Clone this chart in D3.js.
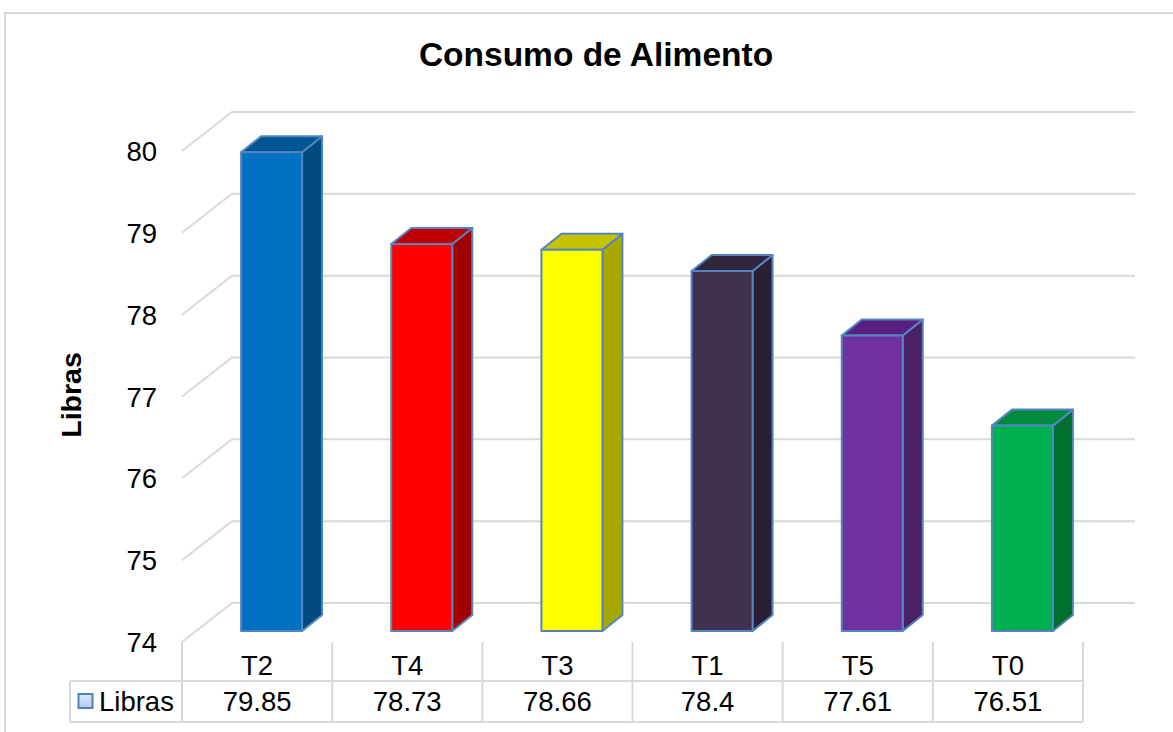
<!DOCTYPE html>
<html><head><meta charset="utf-8"><style>html,body{margin:0;background:#fff}svg{display:block}text{font-family:"Liberation Sans",Arial,sans-serif;fill:#000}</style>
<script src="https://cdn.jsdelivr.net/npm/d3@7"></script></head><body><svg id="c" width="1173" height="732"></svg>
<script>
const categories=["T2","T4","T3","T1","T5","T0"];
const values=[79.85,78.73,78.66,78.4,77.61,76.51];
const valueLabels=["79.85","78.73","78.66","78.4","77.61","76.51"];
const frontColors=["#0070c0","#ff0000","#ffff00","#403151","#7030a0","#00b050"];
const topColors=["#005693","#c00000","#c4c400","#30253d","#561f80","#008a3e"];
const sideColors=["#004a80","#a00000","#a8a800","#2a2036","#4b2067","#00702f"];
const ticks=[74,75,76,77,78,79,80];
const svg=d3.select("#c");
const grid="#d9d9d9";
const y=d3.scaleLinear().domain([74,80]).range([642,151]);
const x=d3.scaleBand().domain(categories).range([182,1083]);
const bw=61,dx=20,dy=16,barLift=11,barShift=14.5,backDx=50,backDy=39;
const line=(a,b,c,d,col=grid,w=2)=>svg.append("line").attr("x1",a).attr("y1",b).attr("x2",c).attr("y2",d).attr("stroke",col).attr("stroke-width",w);
// outer frame
svg.append("path").attr("d","M5,732V13H1173").attr("fill","none").attr("stroke",grid).attr("stroke-width",2);
svg.append("text").attr("x",596).attr("y",66).attr("text-anchor","middle").attr("font-size",33.5).attr("font-weight","bold").text("Consumo de Alimento");
svg.append("text").attr("transform","translate(81,395) rotate(-90)").attr("text-anchor","middle").attr("font-size",28.5).attr("font-weight","bold").text("Libras");
// gridlines
ticks.forEach(t=>{
  const v=y(t);
  svg.append("path").attr("d",`M${182},${v}L${182+backDx},${v-backDy}H1135`).attr("fill","none").attr("stroke",grid).attr("stroke-width",2);
  svg.append("text").attr("x",157).attr("y",v+10).attr("text-anchor","end").attr("font-size",27.5).text(t);
});
// bars
categories.forEach((c,i)=>{
  const l=x(c)+x.bandwidth()/2-bw/2+barShift, r=l+bw, top=y(values[i])-barLift, bot=y(74)-barLift;
  const g=svg.append("g").attr("stroke","#5585c0").attr("stroke-width",2).attr("stroke-linejoin","round");
  g.append("path").attr("d",`M${r},${top}L${r+dx},${top-dy}V${bot-dy}L${r},${bot}Z`).attr("fill",sideColors[i]);
  g.append("path").attr("d",`M${l},${top}L${l+dx},${top-dy}H${r+dx}L${r},${top}Z`).attr("fill",topColors[i]);
  g.append("rect").attr("x",l).attr("y",top).attr("width",bw).attr("height",bot-top).attr("fill",frontColors[i]);
});
// data table
const rowTop=681,rowBot=722,tblTop=642;
line(70,rowTop,1083,rowTop);line(70,rowBot,1083,rowBot);line(70,rowTop,70,rowBot);
[...categories.map(c=>x(c)),1083].forEach(v=>line(v,tblTop,v,rowBot));
categories.forEach((c,i)=>{
  const m=x(c)+x.bandwidth()/2;
  svg.append("text").attr("x",m).attr("y",675).attr("text-anchor","middle").attr("font-size",27.5).text(c);
  svg.append("text").attr("x",m).attr("y",711).attr("text-anchor","middle").attr("font-size",27.5).text(valueLabels[i]);
});
const lg=svg.append("defs").append("linearGradient").attr("id","lg").attr("x1",0).attr("y1",0).attr("x2",0).attr("y2",1);
lg.append("stop").attr("offset",0).attr("stop-color","#dce6f7");lg.append("stop").attr("offset",1).attr("stop-color","#b3ccf2");
svg.append("rect").attr("x",78.5).attr("y",694).attr("width",14).attr("height",14).attr("fill","url(#lg)").attr("stroke","#4f81bd").attr("stroke-width",2);
svg.append("text").attr("x",99).attr("y",711).attr("font-size",27.5).text("Libras");
</script></body></html>
